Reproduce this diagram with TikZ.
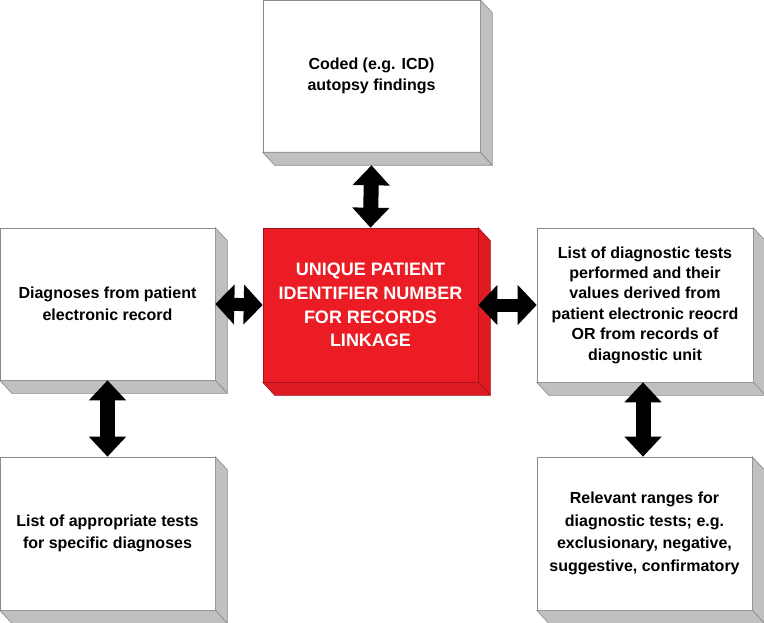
\documentclass[tikz,border=0pt]{standalone}
\usepackage{fontspec}
\setmainfont{Liberation Sans}
\usetikzlibrary{arrows.meta}
\definecolor{sidegray}{HTML}{C0C0C0}
\definecolor{edgegray}{HTML}{8A8A8A}
\definecolor{boxred}{HTML}{EC1C24}
\definecolor{sidered}{HTML}{DE1A22}
\definecolor{edgered}{HTML}{A01218}
\newcommand\depthfaces[3]{%
  \filldraw[fill=#2,draw=#3,line width=0.6pt,line join=round]
    (#1.north east) -- ++(12,13) -- ([shift={(12,13)}]#1.south east) -- (#1.south east) -- cycle;
  \filldraw[fill=#2,draw=#3,line width=0.6pt,line join=round]
    (#1.south west) -- (#1.south east) -- ([shift={(12,13)}]#1.south east) -- ([shift={(12,13)}]#1.south west) -- cycle;
}
\tikzset{
  whitebox/.style={draw=edgegray,line width=0.6pt,fill=white,inner sep=0pt,align=center,
    font=\fontsize{16}{21.5}\selectfont\bfseries,text=black},
  redbox/.style={draw=edgered,line width=0.6pt,fill=boxred,inner sep=0pt,align=center,
    font=\fontsize{18}{23.7}\selectfont\bfseries,text=white,
    minimum width=215pt,minimum height=154pt},
  vdbl/.style={line width=15pt,black,{Triangle[length=20pt,width=36pt]}-{Triangle[length=20pt,width=36pt]}},
  hdbl/.style={line width=13pt,black,{Triangle[length=19pt,width=39pt]}-{Triangle[length=19pt,width=39pt]}}
}
\begin{document}
\begin{tikzpicture}[x=1pt,y=-1pt]
\useasboundingbox (0,0) rectangle (764,623);
% boxes
\node[whitebox,minimum width=217pt,minimum height=152pt] (top) at (371.5,76) {Coded (e.g. ICD)\\autopsy findings};
\depthfaces{top}{sidegray}{edgegray}
\node[whitebox,minimum width=215pt,minimum height=152pt] (left) at (107.5,304) {Diagnoses from patient\\electronic record};
\depthfaces{left}{sidegray}{edgegray}
\node[redbox] (red) at (370.5,305) {UNIQUE PATIENT\\IDENTIFIER NUMBER\\FOR RECORDS\\LINKAGE};
\depthfaces{red}{sidered}{edgered}
\node[whitebox,minimum width=216pt,minimum height=154pt,font=\fontsize{16}{20.4}\selectfont\bfseries] (right) at (645,305) {List of diagnostic tests\\performed and their\\values derived from\\patient electronic reocrd\\OR from records of\\diagnostic unit};
\depthfaces{right}{sidegray}{edgegray}
\node[whitebox,minimum width=215pt,minimum height=153pt] (bl) at (107.5,533.5) {List of appropriate tests\\for specific diagnoses};
\depthfaces{bl}{sidegray}{edgegray}
\node[whitebox,minimum width=215pt,minimum height=153pt,font=\fontsize{16}{22.5}\selectfont\bfseries] (br) at (644.5,533.5) {Relevant ranges for\\diagnostic tests; e.g.\\exclusionary, negative,\\suggestive, confirmatory};
\depthfaces{br}{sidegray}{edgegray}
% connectors
\draw[vdbl] ([yshift=-13pt]top.south) -- (red.north);
\draw[hdbl] (left.east) -- (red.west);
\draw[hdbl] (red.east) -- (right.west);
\draw[vdbl] (left.south) -- (bl.north);
\draw[vdbl] ([xshift=-2pt]right.south) -- ([xshift=-1.5pt]br.north);
\end{tikzpicture}
\end{document}
